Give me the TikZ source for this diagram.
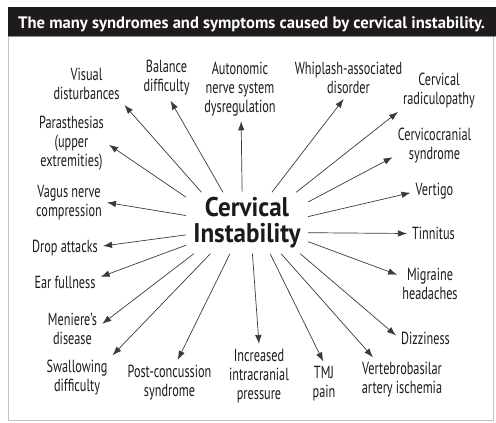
\documentclass[tikz,border=0pt]{standalone}
\usepackage{fontspec}
\setmainfont{PT Sans}
\newfontfamily\condfont[FakeStretch=0.7]{PT Sans}
\newfontfamily\hubfont[FakeStretch=0.93]{PT Sans}
\usetikzlibrary{arrows.meta}
\definecolor{cink}{HTML}{1C1A1A}
\definecolor{cbar}{HTML}{1F1B1B}
\definecolor{cline}{HTML}{3A3A3A}
\definecolor{cframe}{HTML}{C4C4C4}
\tikzset{
  >={Latex[length=9pt,width=6.5pt]},
  sym/.style={font=\condfont\fontsize{17.5}{19}\selectfont,text=cink,align=center,inner sep=5pt},
  hub/.style={font=\hubfont\bfseries\fontsize{27}{26}\selectfont,text=cink,align=center,
              minimum width=122pt,minimum height=61pt,inner sep=0pt},
  ray/.style={->,draw=cline,line width=0.7pt},
  ttl/.style={font=\bfseries\fontsize{16.6}{18}\selectfont,text=white,inner sep=0pt},
}

\begin{document}
\begin{tikzpicture}[x=1pt,y=-1pt]
\useasboundingbox (0,0) rectangle (496,423);

% ================= FRAME + TITLE BAR =================
\draw[cframe,line width=0.7pt] (8,36) rectangle (493,420);
\fill[cbar] (8,7) rectangle (496,36);
\draw[black!45,line width=0.8pt] (8,36.5) -- (496,36.5);
\node[ttl,anchor=base west] (ttl) at (18,28) {The many syndromes and symptoms caused by cervical instability.};

% ================= HUB =================
\node[hub] (ci) at (247,223) {Cervical\\Instability};

% ================= SYMPTOMS (clockwise from top left) =================
\node[sym] (vis) at (86.5,84) {Visual\\disturbances};
\node[sym] (bal) at (166.5,78) {Balance\\difficulty};
\node[sym] (aut) at (240,89) {Autonomic\\nerve system\\dysregulation};
\node[sym] (whi) at (348.5,78) {Whiplash-associated\\disorder};
\node[sym] (rad) at (439,91) {Cervical\\radiculopathy};
\node[sym] (ccs) at (434.5,146) {Cervicocranial\\syndrome};
\node[sym] (ver) at (434.5,191.5) {Vertigo};
\node[sym] (tin) at (433.5,233.5) {Tinnitus};
\node[sym] (mig) at (430,283.5) {Migraine\\headaches};
\node[sym] (diz) at (425.5,338.5) {Dizziness};
\node[sym] (vba) at (402,380) {Vertebrobasilar\\artery ischemia};
\node[sym] (tmj) at (324,384) {TMJ\\pain};
\node[sym] (icp) at (259,376) {Increased\\intracranial\\pressure};
\node[sym] (pcs) at (169.5,382.5) {Post-concussion\\syndrome};
\node[sym] (swa) at (77,377.5) {Swallowing\\difficulty};
\node[sym] (men) at (72.5,328.5) {Meniere’s\\disease};
\node[sym] (ear) at (65,282.5) {Ear fullness};
\node[sym] (drp) at (65,248) {Drop attacks};
\node[sym] (vag) at (69,202.5) {Vagus nerve\\compression};
\node[sym] (par) at (71.5,143.5) {Parasthesias\\(upper\\extremities)};

% rays: hub anchor / symptom / symptom anchor
\foreach \a/\n/\b in {146/vis/331, 128/bal/280, 99/aut/272, 51/whi/257,
    32/rad/207, 19/ccs/195, 6/ver/183, -9/tin/180, -17/mig/165, -30/diz/174,
    -42/vba/142, -53/tmj/92, -80/icp/90, 241/pcs/70, 220/swa/32, 210/men/9,
    200/ear/9, 191/drp/3, 173/vag/0, 157/par/-2}
  \draw[ray] (ci.\a) -- (\n.\b);

\end{tikzpicture}
\end{document}
